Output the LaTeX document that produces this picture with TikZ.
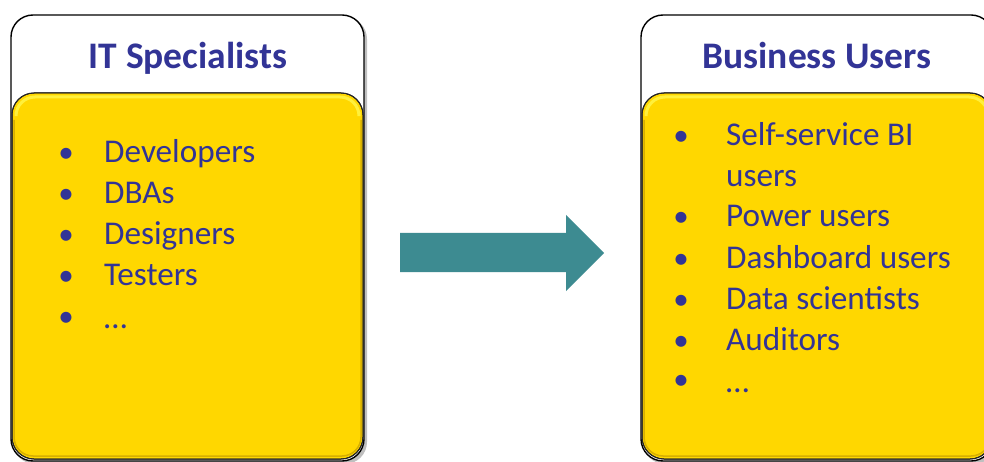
\documentclass[tikz,border=0pt]{standalone}
\usepackage{fontspec}
\setmainfont{Carlito}
\definecolor{txtblue}{RGB}{50,52,150}
\definecolor{gold}{RGB}{255,215,0}
\definecolor{goldlight}{RGB}{255,240,60}
\definecolor{golddark}{RGB}{215,175,0}
\definecolor{teal}{RGB}{61,139,145}
\begin{document}
\begin{tikzpicture}[x=1pt,y=-1pt,
  outerbox/.style={draw=black,line width=1.4pt,fill=white,rounded corners=22pt},
  innerbox/.style={draw=black!85,line width=1pt,fill=gold,rounded corners=22pt},
  title/.style={anchor=base,inner sep=0pt,text=txtblue,font=\fontsize{37.5}{42}\selectfont\bfseries},
  item/.style={anchor=base west,inner sep=0pt,text=txtblue,font=\fontsize{33.2}{41}\selectfont},
  bul/.style={anchor=base,inner sep=0pt,text=txtblue,font=\fontsize{31}{41}\selectfont}]
\clip (0,0) rectangle (984,462);
\useasboundingbox (0,0) rectangle (984,462);
% left box
\fill[black!25,rounded corners=22pt] (13,17) rectangle (367,464);
\draw[outerbox] (11,15) rectangle (364,461);
\draw[innerbox] (12,93) rectangle (363,459);
\draw[goldlight,line width=3pt,rounded corners=19pt] (16,112) -- (16,97) -- (359,97) -- (359,112);
\draw[golddark,line width=1.5pt,rounded corners=19pt] (361,120) -- (361,456) -- (14,456) -- (14,120);
\draw[black!85,line width=1pt,rounded corners=22pt] (12,93) rectangle (363,459);
% right box
\fill[black!25,rounded corners=22pt] (643,17) rectangle (996,464);
\draw[outerbox] (641,15) rectangle (993,461);
\draw[innerbox] (642,93) rectangle (992,459);
\draw[goldlight,line width=3pt,rounded corners=19pt] (646,112) -- (646,97) -- (988,97) -- (988,112);
\draw[golddark,line width=1.5pt,rounded corners=19pt] (990,120) -- (990,456) -- (644,456) -- (644,120);
\draw[black!85,line width=1pt,rounded corners=22pt] (642,93) rectangle (992,459);
% titles
\node[title] (t1) at (188,69) {IT Specialists};
\node[title] (t2) at (817,69) {Business Users};
% left list
\foreach \txt [count=\i] in {Developers,DBAs,Designers,Testers} {
  \node[bul] (lb\i) at (66,{163+40.8*(\i-1)}) {•};
  \node[item] (li\i) at (104,{163+40.8*(\i-1)}) {\txt};
}
\node[bul] (lb5) at (66,326) {•};
\node[item] (li5) at (104,328) {…};
% right list
\node[bul] (rb1) at (681,146) {•};
\node[item] (ri1) at (726,146) {Self-service BI};
\node[item] (ri1b) at (726,187) {users};
\foreach \txt [count=\i] in {Power users,Dashboard users,Data scientists,Auditors} {
  \node[bul] (rb\i x) at (681,{227+41*(\i-1)}) {•};
  \node[item] (ri\i x) at (726,{227+41*(\i-1)}) {\txt};
}
\node[bul] (rb6) at (681,389) {•};
\node[item] (ri6) at (726,392) {…};
% arrow
\fill[teal] (400,233) -- (566,233) -- (566,215) -- (604,253) -- (566,291) -- (566,272) -- (400,272) -- cycle;
\end{tikzpicture}
\end{document}
